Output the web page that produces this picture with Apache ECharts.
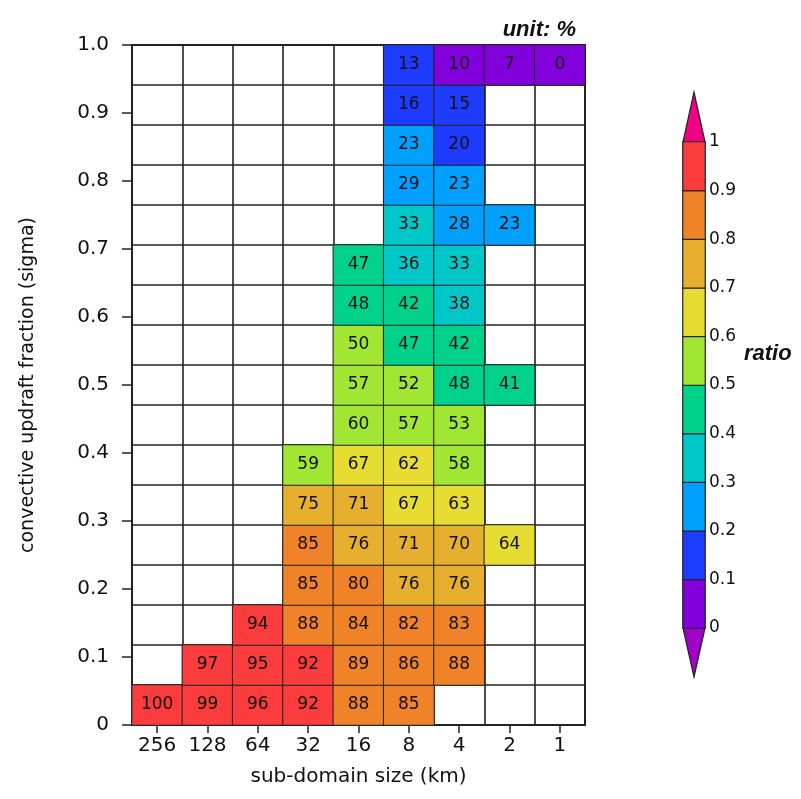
<!DOCTYPE html>
<html>
<head>
<meta charset="utf-8">
<script src="https://cdn.jsdelivr.net/npm/echarts@6/dist/echarts.min.js"></script>
<style>
  html, body { margin: 0; padding: 0; background: #fff; }
  #chart { width: 801px; height: 799px; }
</style>
</head>
<body>
<div id="chart"></div>
<script>
// sub-domain sizes (km), left to right
const sizes = ['256', '128', '64', '32', '16', '8', '4', '2', '1'];
// cell values (%), bottom row first; null = empty cell
const ratioRows = [
  [100, 99, 96, 92, 88, 85, null, null, null],
  [null, 97, 95, 92, 89, 86, 88, null, null],
  [null, null, 94, 88, 84, 82, 83, null, null],
  [null, null, null, 85, 80, 76, 76, null, null],
  [null, null, null, 85, 76, 71, 70, 64, null],
  [null, null, null, 75, 71, 67, 63, null, null],
  [null, null, null, 59, 67, 62, 58, null, null],
  [null, null, null, null, 60, 57, 53, null, null],
  [null, null, null, null, 57, 52, 48, 41, null],
  [null, null, null, null, 50, 47, 42, null, null],
  [null, null, null, null, 48, 42, 38, null, null],
  [null, null, null, null, 47, 36, 33, null, null],
  [null, null, null, null, null, 33, 28, 23, null],
  [null, null, null, null, null, 29, 23, null, null],
  [null, null, null, null, null, 23, 20, null, null],
  [null, null, null, null, null, 16, 15, null, null],
  [null, null, null, null, null, 13, 10, 7, 0]
];
// colour bar pieces (value range in %, colour)
const pieceEdges = [0, 10.5, 20.5, 30, 40, 49.5, 60.5, 69.5, 79.5, 90, 100.01];
const pieceColors = ['#8200dc', '#1e3cff', '#00a0ff', '#00c8c8', '#00d28c',
                     '#a0e632', '#e6dc32', '#e6af2d', '#f08228', '#fa3c3c'];
const barMids = [5, 15, 25, 35, 45, 55, 65, 75, 85, 95];
const yTickLabels = ['0', '0.1', '0.2', '0.3', '0.4', '0.5', '0.6', '0.7', '0.8', '0.9', '1.0'];

const rowIdx = ratioRows.map((_, i) => String(i));
const cells = [];
ratioRows.forEach((row, j) => {
  row.forEach((v, i) => {
    if (v !== null) cells.push([i, j, v]);
  });
});
const barCells = barMids.map((v, i) => [0, i, v]);

const pieces = pieceColors.map((c, i) => ({ gte: pieceEdges[i], lt: pieceEdges[i + 1], color: c }));

const font = 'DejaVu Sans';
const line = '#222';

const chart = echarts.init(document.getElementById('chart'), null, { renderer: 'canvas' });

chart.setOption({
  backgroundColor: '#fff',
  animation: false,
  title: {
    text: 'unit: %',
    right: 220,
    top: 14,
    textStyle: { fontFamily: 'Liberation Sans', fontStyle: 'italic', fontWeight: 'bold', fontSize: 22, color: '#111' }
  },
  grid: [
    { left: 132, top: 45, width: 453, height: 680, show: true, borderColor: line, borderWidth: 2, backgroundColor: '#fff' },
    { left: 683, top: 142, width: 22, height: 486 }
  ],
  xAxis: [
    {
      type: 'category', gridIndex: 0, data: sizes,
      name: 'sub-domain size (km)', nameLocation: 'middle', nameGap: 42,
      nameTextStyle: { fontFamily: font, fontSize: 20, color: '#111' },
      axisLine: { show: true, lineStyle: { color: line, width: 2 } },
      axisTick: { show: true, alignWithLabel: true, inside: false, length: 8, lineStyle: { color: line, width: 1.5 } },
      axisLabel: { fontFamily: font, fontSize: 20, color: '#111', margin: 11, interval: 0 },
      splitLine: { show: true, interval: 0, lineStyle: { color: line, width: 1.6 } }
    },
    { type: 'category', gridIndex: 1, data: ['cb'], show: false }
  ],
  yAxis: [
    {
      type: 'category', gridIndex: 0, data: rowIdx, position: 'left',
      axisLine: { show: false }, axisTick: { show: false }, axisLabel: { show: false },
      splitLine: { show: true, interval: 0, lineStyle: { color: line, width: 1.6 } }
    },
    {
      type: 'value', gridIndex: 0, min: 0, max: 1, interval: 0.1, position: 'left',
      name: 'convective updraft fraction (sigma)', nameLocation: 'middle', nameGap: 94, nameRotate: 90,
      nameTextStyle: { fontFamily: font, fontSize: 19, color: '#111' },
      axisLine: { show: true, lineStyle: { color: line, width: 2 } },
      axisTick: { show: true, inside: false, length: 10, lineStyle: { color: line, width: 1.5 } },
      axisLabel: { fontFamily: font, fontSize: 20, color: '#111', margin: 23,
        formatter: (v) => yTickLabels[Math.round(v * 10)] },
      splitLine: { show: false }
    },
    { type: 'category', gridIndex: 1, data: barMids.map(String), show: false },
    {
      type: 'value', gridIndex: 1, min: 0, max: 1, interval: 0.1, position: 'right',
      axisLine: { show: false }, axisTick: { show: false }, splitLine: { show: false },
      axisLabel: { fontFamily: font, fontSize: 17, color: '#111', margin: 4 }
    }
  ],
  visualMap: {
    type: 'piecewise', show: false, dimension: 2, seriesIndex: [0, 1], pieces: pieces
  },
  series: [
    {
      type: 'heatmap', xAxisIndex: 0, yAxisIndex: 0, data: cells,
      itemStyle: { borderColor: line, borderWidth: 1 },
      label: { show: true, formatter: (p) => String(p.value[2]), fontFamily: font, fontSize: 17, color: '#111' },
      emphasis: { disabled: true }
    },
    {
      type: 'heatmap', xAxisIndex: 1, yAxisIndex: 2, data: barCells,
      itemStyle: { borderColor: line, borderWidth: 1.2 },
      emphasis: { disabled: true }
    }
  ],
  graphic: [
    { type: 'polygon', shape: { points: [[683, 142], [705, 142], [694, 92]] },
      style: { fill: '#f00082', stroke: line, lineWidth: 1.2 } },
    { type: 'polygon', shape: { points: [[683, 628], [705, 628], [694, 677]] },
      style: { fill: '#a000c8', stroke: line, lineWidth: 1.2 } },
    { type: 'text', left: 744, top: 343,
      style: { text: 'ratio', fontFamily: 'Liberation Sans', fontStyle: 'italic', fontWeight: 'bold', fontSize: 22, fill: '#111' } }
  ]
});
</script>
</body>
</html>
